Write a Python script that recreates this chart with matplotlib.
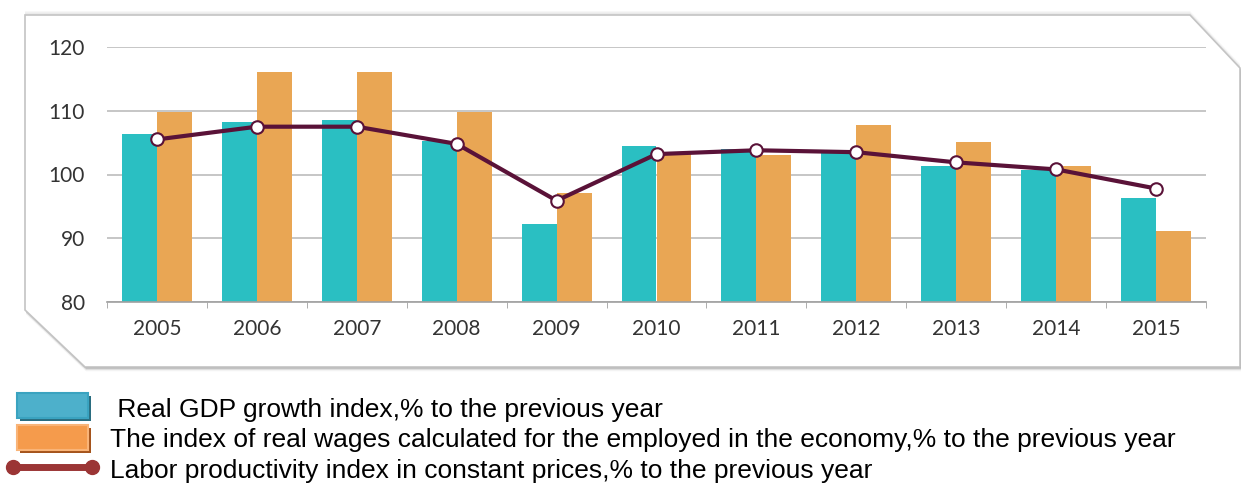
import matplotlib
matplotlib.use('Agg')
import matplotlib.pyplot as plt
import numpy as np
from matplotlib.patches import Polygon, Rectangle

years = ['2005', '2006', '2007', '2008', '2009', '2010', '2011', '2012', '2013', '2014', '2015']
gdp = [106.4, 108.2, 108.5, 105.2, 92.2, 104.5, 104.0, 103.4, 101.3, 100.7, 96.3]
wages = [109.8, 116.1, 116.1, 109.8, 97.1, 103.2, 103.0, 107.7, 105.1, 101.4, 91.2]
productivity = [105.5, 107.5, 107.5, 104.8, 95.9, 103.2, 103.8, 103.5, 101.9, 100.8, 97.8]
legend_labels = [' Real GDP growth index,% to the previous year',
                 'The index of real wages calculated for the employed in the economy,% to the previous year',
                 'Labor productivity index in constant prices,% to the previous year']

W, H = 1243, 484
fig = plt.figure(figsize=(W / 100, H / 100), dpi=100)
fig.set_facecolor('white')

# background layer in pixel coordinates (frame + legend)
bg = fig.add_axes([0, 0, 1, 1], zorder=0)
bg.set_xlim(0, W)
bg.set_ylim(H, 0)
bg.axis('off')

frame = [(25, 15), (1190, 15), (1240, 68), (1240, 367), (85, 367), (25, 310)]
for k, a in zip([7, 5, 3.5, 2], [0.07, 0.12, 0.18, 0.3]):
    bg.add_patch(Polygon([(x + 1, y + k * 0.6) for x, y in frame], closed=True,
                         facecolor='#606060', edgecolor='none', alpha=a))
for k, a in zip([4, 2.5], [0.06, 0.1]):
    bg.add_patch(Polygon([(x, y - k) for x, y in frame], closed=True,
                         facecolor='#808080', edgecolor='none', alpha=a))
bg.add_patch(Polygon(frame, closed=True, facecolor='white', edgecolor='#c4c4c4', lw=1.2))

# legend icons
bg.add_patch(Rectangle((20, 396), 71, 25, facecolor='#2a6d80', edgecolor='none'))
bg.add_patch(Rectangle((17, 393), 71, 25, facecolor='#4db0cb', edgecolor='#3aa3c0', lw=1.5))
bg.add_patch(Rectangle((20, 428), 71, 25, facecolor='#a5541c', edgecolor='none'))
bg.add_patch(Rectangle((17, 425), 71, 25, facecolor='#f59b4c', edgecolor='#f9b478', lw=1.5))
bg.plot([13, 92], [467, 467], color='#9b3535', lw=5, solid_capstyle='butt')
bg.plot([13, 92], [467, 467], 'o', color='#9b3535', ms=10)

legend_font = ['Liberation Sans', 'DejaVu Sans']
for lab, yb in zip(legend_labels, [417, 447, 478]):
    bg.text(110, yb, lab, fontsize=19, family=legend_font, va='baseline', ha='left')

# chart
ax = fig.add_axes([107 / W, 1 - 302 / H, (1206 - 107) / W, (302 - 47) / H], zorder=2)
ax.patch.set_alpha(0)
x = np.arange(len(years))
bw = 0.35
ax.bar(x - bw / 2, [v - 80 for v in gdp], bw, bottom=80, color='#2abfc2', zorder=2)
ax.bar(x + bw / 2, [v - 80 for v in wages], bw, bottom=80, color='#e9a654', zorder=2)
ax.plot(x, productivity, color='#5a1238', lw=3, marker='o', ms=9,
        markerfacecolor='white', markeredgecolor='#5a1238', markeredgewidth=1.5, zorder=3)

ax.set_xlim(-0.5, len(years) - 0.5)
ax.set_ylim(80, 120)
ax.set_yticks([80, 90, 100, 110, 120])
ax.yaxis.grid(True, color='#bcbcbc', lw=1.2)
ax.set_axisbelow(True)
for s in ['top', 'right', 'left']:
    ax.spines[s].set_visible(False)
ax.spines['bottom'].set_color('#a0a0a0')
ax.spines['bottom'].set_linewidth(1.2)
ax.set_xticks(x)
ax.set_xticklabels(years)
ax.set_xticks(np.arange(-0.5, len(years)), minor=True)
ax.tick_params(axis='x', which='major', length=0, pad=12)
ax.tick_params(axis='x', which='minor', length=4, color='#a0a0a0')
ax.tick_params(axis='y', length=0, pad=16)
tick_font = ['Lato', 'DejaVu Sans']
for lab in ax.get_xticklabels() + ax.get_yticklabels():
    lab.set_family(tick_font)
    lab.set_fontsize(15)
    lab.set_color('#333333')

fig.savefig('out.png', dpi=100, facecolor='white')
